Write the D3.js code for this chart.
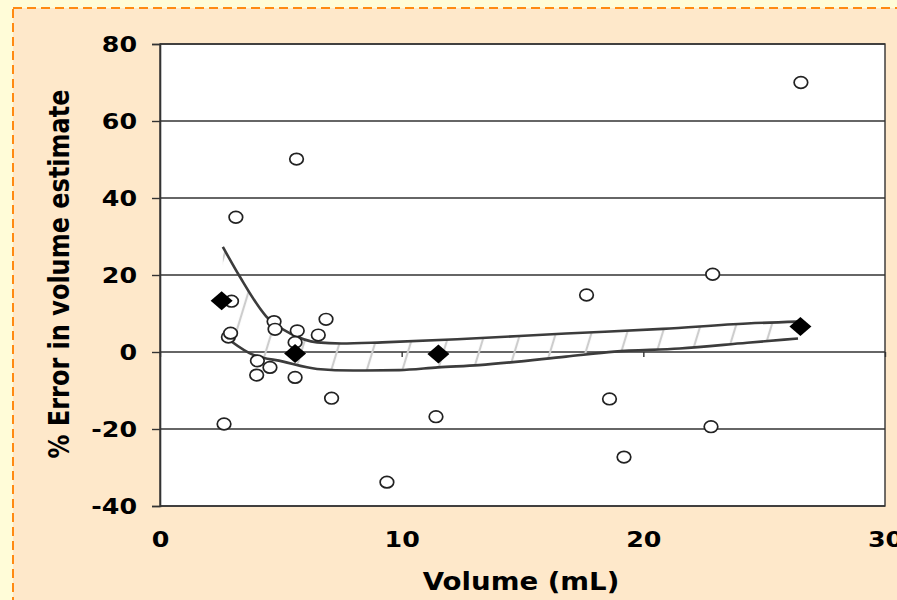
<!DOCTYPE html>
<html>
<head>
<meta charset="utf-8">
<script src="https://cdn.jsdelivr.net/npm/d3@7"></script>
<style>
  body { margin: 0; background: #fffcd8; }
  svg { display: block; }
  text { font-family: "DejaVu Sans", Verdana, sans-serif; font-weight: bold; fill: #000; }
</style>
</head>
<body>
<svg id="chart" width="897" height="600"></svg>
<script>
// individual measurements
var volume = [2.65, 3.14, 2.96, 2.83, 2.92, 5.65, 4.72, 4.76, 5.68, 5.59, 6.87, 6.55, 4.03,
              4.55, 4.0, 5.59, 7.1, 9.39, 11.42, 17.65, 18.6, 19.2, 22.87, 22.8, 26.52];
var error = [-18.7, 35.0, 13.2, 3.9, 4.9, 50.1, 7.9, 5.9, 5.5, 2.5, 8.5, 4.4, -2.3,
             -4.0, -6.0, -6.6, -12.0, -33.8, -16.8, 14.8, -12.2, -27.3, 20.2, -19.4, 70.0];

// group means
var meanVolume = [2.55, 5.59, 11.52, 26.5];
var meanError = [13.3, -0.4, -0.5, 6.6];

// confidence band
var upperVolume = [2.6, 3.3, 4.4, 5.4, 6.5, 7.5, 9.2, 12.3, 16.8, 20.8, 24.3, 26.4];
var upperError = [27.3, 19.6, 9.2, 4.8, 2.5, 2.2, 2.5, 3.3, 4.8, 6.0, 7.4, 7.9];
var lowerVolume = [2.6, 3.7, 5.1, 6.5, 8.0, 9.9, 11.5, 13.2, 16.8, 18.8, 21.5, 24.3, 26.4];
var lowerError = [4.4, -0.3, -2.5, -4.4, -4.8, -4.7, -4.0, -3.4, -1.2, 0.1, 0.9, 2.4, 3.5];

var xTicks = [0, 10, 20, 30];
var yTicks = [-40, -20, 0, 20, 40, 60, 80];

var svg = d3.select("#chart"),
    plot = {left: 160, top: 44, right: 885, bottom: 506},
    stretch = 1.15;

var x = d3.scaleLinear().domain([0, 30]).range([plot.left, plot.right]),
    y = d3.scaleLinear().domain([-40, 80]).range([plot.bottom, plot.top]);

var plain = function(d) { return String(d); };

// frame
svg.append("rect")
    .attr("x", 13).attr("y", 8)
    .attr("width", 900).attr("height", 610)
    .attr("fill", "#fee8ca")
    .attr("stroke", "#ff8a12")
    .attr("stroke-width", 2)
    .attr("stroke-dasharray", "9,5");

svg.append("rect")
    .attr("x", plot.left).attr("y", plot.top)
    .attr("width", plot.right - plot.left).attr("height", plot.bottom - plot.top)
    .attr("fill", "#fff");

var defs = svg.append("defs");
defs.append("pattern")
    .attr("id", "hatch")
    .attr("patternUnits", "userSpaceOnUse")
    .attr("width", 34).attr("height", 34)
    .attr("patternTransform", "rotate(17)")
  .append("line")
    .attr("x1", 17).attr("y1", 0).attr("x2", 17).attr("y2", 34)
    .attr("stroke", "#cdcdcd")
    .attr("stroke-width", 2.2);

// gridlines
svg.append("g")
    .selectAll("line")
    .data(yTicks)
    .enter().append("line")
      .attr("x1", plot.left).attr("x2", plot.right)
      .attr("y1", function(d) { return y(d); })
      .attr("y2", function(d) { return y(d); })
      .attr("stroke", "#333")
      .attr("stroke-width", 1.4);

// band
var upper = upperVolume.map(function(v, i) { return [v, upperError[i]]; }),
    lower = lowerVolume.map(function(v, i) { return [v, lowerError[i]]; });

var curve = d3.line()
    .x(function(d) { return x(d[0]); })
    .y(function(d) { return y(d[1]); })
    .curve(d3.curveMonotoneX);

var upperPath = curve(upper),
    lowerPath = curve(lower.slice().reverse());

svg.append("path")
    .attr("d", upperPath + "L" + lowerPath.slice(1) + "Z")
    .attr("fill", "url(#hatch)");

// x axis tick marks on the zero line
svg.append("g")
    .attr("transform", "translate(0," + y(0) + ")")
    .call(d3.axisBottom(x).tickValues(xTicks).tickSize(5).tickFormat(""))
    .call(function(g) { g.select(".domain").remove(); })
    .selectAll("line").attr("stroke", "#333").attr("stroke-width", 1.4);

[upper, lower].forEach(function(d) {
  svg.append("path")
      .attr("d", curve(d))
      .attr("fill", "none")
      .attr("stroke", "#3c3c3c")
      .attr("stroke-width", 2.6);
});

// plot border
svg.append("rect")
    .attr("x", plot.left).attr("y", plot.top)
    .attr("width", plot.right - plot.left).attr("height", plot.bottom - plot.top)
    .attr("fill", "none")
    .attr("stroke", "#333")
    .attr("stroke-width", 1.4);

// axes
var yAxis = svg.append("g")
    .attr("transform", "translate(" + plot.left + ",0)")
    .call(d3.axisLeft(y).tickValues(yTicks).tickSize(8).tickFormat(plain));
yAxis.select(".domain").attr("stroke", "#333").attr("stroke-width", 1.6);
yAxis.selectAll("line").attr("stroke", "#333").attr("stroke-width", 1.4);
yAxis.selectAll("text")
    .attr("x", null)
    .attr("dy", "0.36em")
    .attr("transform", "translate(-23,0) scale(" + stretch + ",1)")
    .style("font-size", "22px");

var xAxis = svg.append("g")
    .attr("transform", "translate(0," + plot.bottom + ")")
    .call(d3.axisBottom(x).tickValues(xTicks).tickSize(0).tickFormat(plain));
xAxis.select(".domain").remove();
xAxis.selectAll("text")
    .attr("y", null)
    .attr("dy", null)
    .attr("transform", "translate(0,41) scale(" + stretch + ",1)")
    .style("font-size", "22px");

svg.selectAll(".tick text").attr("fill", "#000");

// observations
svg.append("g")
    .selectAll("ellipse")
    .data(volume)
    .enter().append("ellipse")
      .attr("cx", function(d) { return x(d); })
      .attr("cy", function(d, i) { return y(error[i]); })
      .attr("rx", 6.8)
      .attr("ry", 5.8)
      .attr("fill", "#fff")
      .attr("stroke", "#222")
      .attr("stroke-width", 1.7);

// means
svg.append("g")
    .selectAll("path")
    .data(meanVolume)
    .enter().append("path")
      .attr("transform", function(d, i) { return "translate(" + x(d) + "," + y(meanError[i]) + ")"; })
      .attr("d", "M0,-9.5L11,0L0,9.5L-11,0Z")
      .attr("fill", "#000");

// titles
svg.append("text")
    .attr("transform", "translate(521,590) scale(" + stretch + ",1)")
    .attr("text-anchor", "middle")
    .style("font-size", "24px")
    .text("Volume (mL)");

svg.append("text")
    .attr("transform", "translate(69,274) scale(" + stretch + ",1) rotate(-90)")
    .attr("text-anchor", "middle")
    .style("font-size", "24px")
    .text("% Error in volume estimate");
</script>
</body>
</html>
